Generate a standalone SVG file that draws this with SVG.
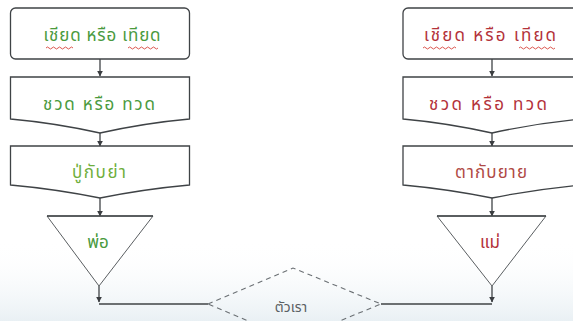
<svg xmlns="http://www.w3.org/2000/svg" width="573" height="321" viewBox="0 0 573 321">
  <style>
    .shape { fill: #ffffff; stroke: #3f4346; stroke-width: 1.3; }
    .tri { fill: #ffffff; stroke: #5a5e61; stroke-width: 1; }
    .triTop { stroke: #3f4346; stroke-width: 1.6; }
    .conn { fill: none; stroke: #3f4346; stroke-width: 1.3; }
    .dash { fill: none; stroke: #6b7074; stroke-width: 1.1; stroke-dasharray: 5 4; }
    .lbl { font-family: "Noto Sans Thai", "Noto Sans", "DejaVu Sans", sans-serif; font-size: 17px; text-anchor: middle; }
    .g { fill: #4a9a3e; }
    .g2 { fill: #6fae3c; }
    .r { fill: #b3323a; }
    .r2 { fill: #b04a45; }
    .k { fill: #5a5f63; font-size: 14px; }
    .wave { fill: none; stroke: #d8443c; stroke-width: 0.9; }
  </style>
  <defs>
    <marker id="ah" viewBox="0 0 10 10" refX="9" refY="5" markerWidth="6" markerHeight="6" orient="auto" markerUnits="userSpaceOnUse">
      <path d="M0,0 L10,5 L0,10 Z" fill="#3a3d40"/>
    </marker>
    <linearGradient id="bg" x1="0" y1="0" x2="0" y2="1">
      <stop offset="0" stop-color="#ffffff" stop-opacity="0"/>
      <stop offset="1" stop-color="#e9f0f4"/>
    </linearGradient>
  </defs>
  <rect width="573" height="321" fill="#ffffff"/>
  <rect x="0" y="240" width="573" height="81" fill="url(#bg)"/>

  <g id="connectors">
    <line class="conn" x1="100" y1="59" x2="100" y2="76" marker-end="url(#ah)"/>
    <line class="conn" x1="100" y1="133" x2="100" y2="146" marker-end="url(#ah)"/>
    <line class="conn" x1="100" y1="198" x2="100" y2="216" marker-end="url(#ah)"/>
    <line class="conn" x1="99" y1="286" x2="99" y2="302" marker-end="url(#ah)"/>
    <line class="conn" x1="99" y1="304" x2="208" y2="304"/>
    <line class="conn" x1="492" y1="59" x2="492" y2="76" marker-end="url(#ah)"/>
    <line class="conn" x1="492" y1="133" x2="492" y2="146" marker-end="url(#ah)"/>
    <line class="conn" x1="492" y1="198" x2="492" y2="216" marker-end="url(#ah)"/>
    <line class="conn" x1="492" y1="286" x2="492" y2="302" marker-end="url(#ah)"/>
    <line class="conn" x1="381" y1="304" x2="492" y2="304"/>
  </g>

  <g id="left-1">
    <rect class="shape" x="10.5" y="8" width="179" height="51" rx="5"/>
    <text class="lbl g" x="102" y="41" textLength="117" lengthAdjust="spacing">เชียด หรือ เทียด</text>
    <path class="wave" d="M46,48 q1.5,-2 3,0 t3,0 t3,0 t3,0 t3,0 t3,0 t3,0 t3,0 t3,0"/>
    <path class="wave" d="M128,48 q1.5,-2 3,0 t3,0 t3,0 t3,0 t3,0 t3,0 t3,0 t3,0 t3,0 t3,0"/>
  </g>
  <g id="left-2">
    <path class="shape" d="M10.5,77 H189.5 V119 Q145,123 100,133 Q55,123 10.5,119 Z"/>
    <text class="lbl g" x="99" y="110" textLength="112" lengthAdjust="spacing">ชวด หรือ ทวด</text>
  </g>
  <g id="left-3">
    <path class="shape" d="M10.5,146 H189.5 V185 Q145,189 100,198 Q55,189 10.5,185 Z"/>
    <text class="lbl g2" x="99" y="178" textLength="54" lengthAdjust="spacing">ปู่กับย่า</text>
  </g>
  <g id="left-4">
    <path class="tri" d="M47,216 H153 L99,286 Z"/>
    <line class="triTop" x1="47" y1="216" x2="153" y2="216"/>
    <text class="lbl g" x="98" y="248">พ่อ</text>
  </g>

  <g id="right-1">
    <rect class="shape" x="403" y="8" width="179" height="51" rx="5"/>
    <text class="lbl r" x="490" y="41" textLength="132" lengthAdjust="spacing">เชียด หรือ เทียด</text>
    <path class="wave" d="M423,48 q1.5,-2 3,0 t3,0 t3,0 t3,0 t3,0 t3,0 t3,0 t3,0 t3,0 t3,0 t3,0"/>
    <path class="wave" d="M519,48 q1.5,-2 3,0 t3,0 t3,0 t3,0 t3,0 t3,0 t3,0 t3,0 t3,0 t3,0 t3,0 t3,0"/>
  </g>
  <g id="right-2">
    <path class="shape" d="M403,77 H582 V119 Q537,123 492,133 Q447,123 403,119 Z"/>
    <text class="lbl r" x="488" y="110" textLength="118" lengthAdjust="spacing">ชวด หรือ ทวด</text>
  </g>
  <g id="right-3">
    <path class="shape" d="M403,146 H582 V185 Q537,189 492,198 Q447,189 403,185 Z"/>
    <text class="lbl r2" x="491" y="178" textLength="72" lengthAdjust="spacing">ตากับยาย</text>
  </g>
  <g id="right-4">
    <path class="tri" d="M437,216 H546 L492,286 Z"/>
    <line class="triTop" x1="437" y1="216" x2="546" y2="216"/>
    <text class="lbl r" x="490" y="248">แม่</text>
  </g>

  <g id="self">
    <path class="dash" d="M208,304 L293,268 L381,304 L293,340 Z"/>
    <text class="lbl k" x="291" y="312">ตัวเรา</text>
  </g>
</svg>
